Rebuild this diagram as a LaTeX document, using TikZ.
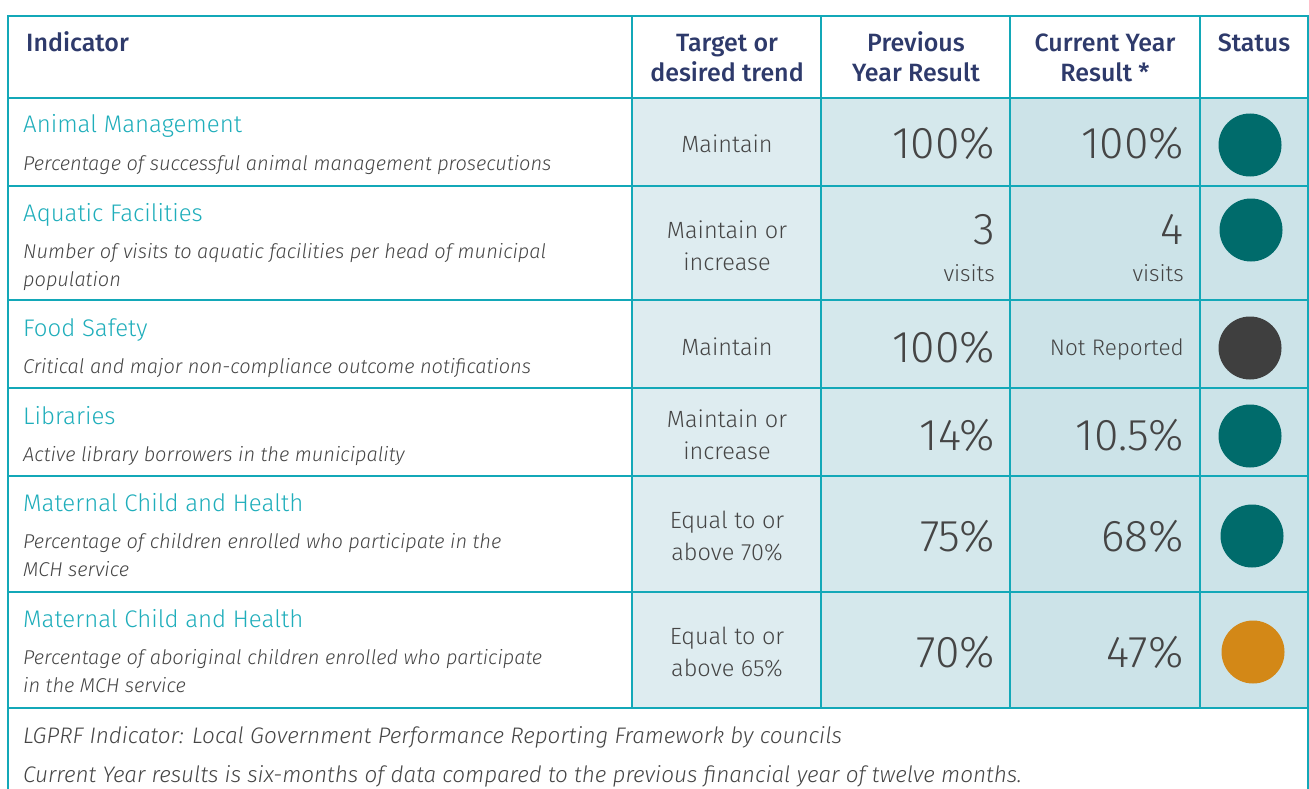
\documentclass[tikz,border=0pt]{standalone}
\usepackage{fontspec}
\setmainfont{Fira Sans}
\newfontfamily\lightfont{Fira Sans Light}
\newfontfamily\headfont{Fira Sans Medium}
\definecolor{rule}{HTML}{13A8B8}
\definecolor{navy}{HTML}{2E3A6B}
\definecolor{titlecyan}{HTML}{1FAEBB}
\definecolor{txtgray}{HTML}{454545}
\definecolor{tgtfill}{HTML}{DEECF0}
\definecolor{prevfill}{HTML}{D5E8EC}
\definecolor{curfill}{HTML}{CCE3E8}
\definecolor{dotgreen}{HTML}{006B6B}
\definecolor{dotgray}{HTML}{3F3F3F}
\definecolor{dotorange}{HTML}{D38817}

\begin{document}
\begin{tikzpicture}[x=1pt, y=-1pt,
    grid/.style={draw=rule, line width=2pt},
    head/.style={anchor=base, align=center, inner sep=0pt, text=navy, font=\headfont\fontsize{25}{30}\selectfont},
    title/.style={anchor=base west, inner sep=0pt, text=titlecyan, font=\lightfont\fontsize{24}{28}\selectfont},
    desc/.style={anchor=base west, align=left, inner sep=0pt, text=txtgray, font=\lightfont\itshape\fontsize{20}{28}\selectfont},
    trend/.style={align=center, inner sep=0pt, text=txtgray, font=\lightfont\fontsize{23.5}{32}\selectfont},
    big/.style={anchor=base east, inner sep=0pt, text=txtgray, font=\lightfont\fontsize{44.5}{48}\selectfont},
    small/.style={anchor=base east, inner sep=0pt, text=txtgray, font=\lightfont\fontsize{22.5}{27}\selectfont},
    dot/.style={circle, minimum size=63pt, inner sep=0pt},
    note/.style={anchor=base west, inner sep=0pt, text=txtgray, font=\lightfont\itshape\fontsize{22.5}{25}\selectfont},
]
    \useasboundingbox (0,0) rectangle (1309,789);
    \fill[white] (0,0) rectangle (1309,789);
    \fill[tgtfill] (632,98) rectangle (821,708);
    \fill[prevfill] (821,98) rectangle (1010,708);
    \fill[curfill] (1010,98) rectangle (1308,708);

    \draw[grid] (8,789) -- (8,16) -- (1308,16) -- (1308,789);
    \draw[grid] (8,98) -- (1308,98) (8,186) -- (1308,186) (8,300) -- (1308,300)
        (8,388) -- (1308,388) (8,476) -- (1308,476) (8,592) -- (1308,592) (8,708) -- (1308,708);
    \draw[grid] (632,16) -- (632,708) (821,16) -- (821,708) (1010,16) -- (1010,708) (1200,16) -- (1200,708);

    \node [head, anchor=base west] (hInd) at (26,52) {Indicator};
    \node [head] (hTgt) at (727,82) {Target or\\desired trend};
    \node [head] (hPrev) at (916,82) {Previous\\Year Result};
    \node [head] (hCur) at (1105,82) {Current Year\\Result *};
    \node [head] (hStat) at (1254,52) {Status};

    \node [title] (tAnim) at (23,133) {Animal Management};
    \node [desc] (dAnim) at (23,170) {Percentage of successful animal management prosecutions};
    \node [trend] (gAnim) at (727,144) {Maintain};
    \node [big] (pAnim) at (995,158) {100\%};
    \node [big] (cAnim) at (1184,158) {100\%};
    \node [dot, fill=dotgreen] (sAnim) at (1250,145) {};

    \node [title] (tAqua) at (23,221) {Aquatic Facilities};
    \node [desc] (dAqua) at (23,286) {Number of visits to aquatic facilities per head of municipal\\population};
    \node [trend] (gAqua) at (727,246) {Maintain or\\increase};
    \node [big] (pAqua) at (995,244) {3};
    \node [small] (pAquaU) at (995,281) {visits};
    \node [big] (cAqua) at (1184,244) {4};
    \node [small] (cAquaU) at (1184,281) {visits};
    \node [dot, fill=dotgreen] (sAqua) at (1251,230) {};

    \node [title] (tFood) at (23,336) {Food Safety};
    \node [desc] (dFood) at (23,373) {Critical and major non-compliance outcome notifications};
    \node [trend] (gFood) at (727,347) {Maintain};
    \node [big] (pFood) at (995,362) {100\%};
    \node [small] (cFood) at (1184,355) {Not Reported};
    \node [dot, fill=dotgray] (sFood) at (1250,348) {};

    \node [title] (tLib) at (23,424) {Libraries};
    \node [desc] (dLib) at (23,461) {Active library borrowers in the municipality};
    \node [trend] (gLib) at (727,435) {Maintain or\\increase};
    \node [big] (pLib) at (995,450) {14\%};
    \node [big] (cLib) at (1184,450) {10.5\%};
    \node [dot, fill=dotgreen] (sLib) at (1250,436) {};

    \node [title] (tMch) at (23,511) {Maternal Child and Health};
    \node [desc] (dMch) at (23,576) {Percentage of children enrolled who participate in the\\MCH service};
    \node [trend] (gMch) at (727,536) {Equal to or\\above 70\%};
    \node [big] (pMch) at (995,551) {75\%};
    \node [big] (cMch) at (1184,551) {68\%};
    \node [dot, fill=dotgreen] (sMch) at (1252,536) {};

    \node [title] (tAbo) at (23,627) {Maternal Child and Health};
    \node [desc] (dAbo) at (23,692) {Percentage of aboriginal children enrolled who participate\\in the MCH service};
    \node [trend] (gAbo) at (727,652) {Equal to or\\above 65\%};
    \node [big] (pAbo) at (995,667) {70\%};
    \node [big] (cAbo) at (1184,667) {47\%};
    \node [dot, fill=dotorange] (sAbo) at (1253,652) {};

    \node [note] (nLg) at (23,743) {LGPRF Indicator: Local Government Performance Reporting Framework by councils};
    \node [note] (nCur) at (23,782) {Current Year results is six-months of data compared to the previous financial year of twelve months.};
\end{tikzpicture}
\end{document}
